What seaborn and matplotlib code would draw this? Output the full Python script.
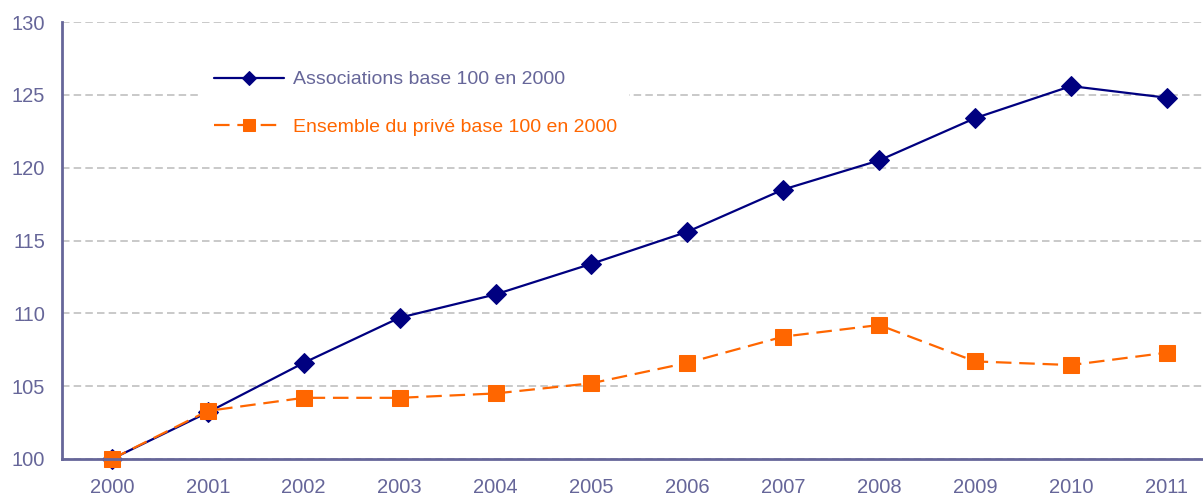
import numpy as np
import pandas as pd
import matplotlib
matplotlib.use('Agg')
import matplotlib.pyplot as plt
from matplotlib.ticker import FixedLocator
import seaborn as sns

years = list(range(2000, 2012))
associations = [100, 103.2, 106.6, 109.7, 111.3, 113.4, 115.6, 118.5, 120.5, 123.4, 125.6, 124.8]
ensemble_prive = [100, 103.3, 104.2, 104.2, 104.5, 105.2, 106.6, 108.4, 109.2, 106.7, 106.45, 107.3]
labels = ['Associations base 100 en 2000', 'Ensemble du privé base 100 en 2000']

axis_col = '#666699'
navy = '#000080'
orange = '#FF6600'

sns.set_style('white')
plt.rcParams['font.family'] = ['Liberation Sans', 'DejaVu Sans']

df = pd.DataFrame({'annee': years, 'assoc': associations, 'prive': ensemble_prive})

fig = plt.figure(figsize=(12.03, 4.95), dpi=100)
ax = fig.add_axes([62 / 1203, 1 - 459 / 495, 1 - 62 / 1203, (459 - 22) / 495])

sns.lineplot(data=df, x='annee', y='assoc', ax=ax, color=navy, lw=1.6,
             marker='D', markersize=10, markeredgecolor=navy, label=labels[0])
sns.lineplot(data=df, x='annee', y='prive', ax=ax, color=orange, lw=1.6,
             marker='s', markersize=11.5, markeredgecolor=orange, label=labels[1],
             dashes=False, linestyle=(0, (7, 3.5)))

ax.set_xlim(1999.48, 2011.376)
ax.set_ylim(100, 130)
ax.set_yticks(np.arange(100, 131, 5))
ax.set_xticks(years)
ax.set_xticklabels([str(y) for y in years])
ax.xaxis.set_minor_locator(FixedLocator([y + 0.5 for y in years]))
ax.tick_params(axis='x', which='major', length=0, pad=14, labelsize=14.5, labelcolor=axis_col)
ax.tick_params(axis='x', which='minor', length=5, width=1.5, color=axis_col, direction='out')
ax.tick_params(axis='y', length=5, width=1.5, color=axis_col, direction='out', labelsize=14.5,
               labelcolor=axis_col, pad=7)
ax.set_xlabel('')
ax.set_ylabel('')

ax.yaxis.grid(True, color='#C0C0C0', linestyle=(0, (4.5, 2.5)), lw=1.2)
ax.set_axisbelow(True)

for s in ['top', 'right']:
    ax.spines[s].set_visible(False)
for s in ['left', 'bottom']:
    ax.spines[s].set_color(axis_col)
    ax.spines[s].set_linewidth(2)

# legend sits on a white box that hides the gridline behind it
leg = ax.legend(loc='upper left', bbox_to_anchor=(0.123, 0.915), frameon=True,
                facecolor='white', edgecolor='none', framealpha=1, fontsize=14,
                handlelength=3.6, handletextpad=0.45, labelspacing=1.55, borderpad=0.6,
                borderaxespad=0)
leg.get_texts()[0].set_color(axis_col)
leg.get_texts()[1].set_color(orange)
leg.legend_handles[0].set_markersize(7.5)
leg.legend_handles[1].set_markersize(8.5)
for t in ax.get_lines():
    t.set_clip_on(False)

fig.savefig('out.png', dpi=100)
